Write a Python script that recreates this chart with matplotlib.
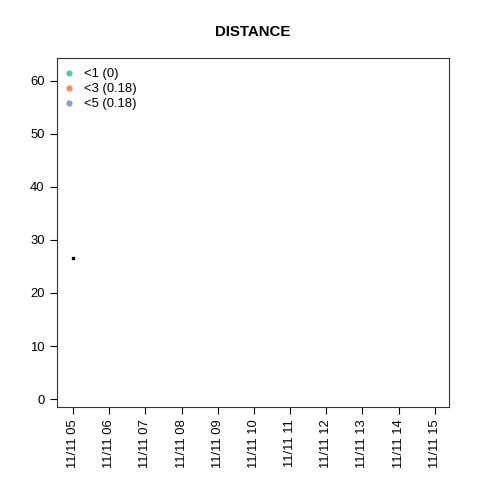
import datetime as dt
import matplotlib
matplotlib.use("Agg")
import matplotlib.pyplot as plt
import matplotlib.dates as mdates
from matplotlib.lines import Line2D

plt.rcParams["font.family"] = ["Liberation Sans", "DejaVu Sans"]

# data
times = [dt.datetime(2015, 11, 11, 5, 0)]
distance = [26.6]
legend_labels = ["<1 (0)", "<3 (0.18)", "<5 (0.18)"]
legend_colors = ["#66C2A5", "#FC8D62", "#8DA0CB"]
tick_times = [dt.datetime(2015, 11, 11, h) for h in range(5, 16)]

fig = plt.figure(figsize=(4.8, 4.8), dpi=100)
ax = fig.add_axes([57 / 480, 73 / 480, 392 / 480, 349 / 480])

ax.plot(times, distance, "s", color="black", markersize=1.8)

t0 = tick_times[0]
ax.set_xlim(t0 - dt.timedelta(hours=0.44), t0 + dt.timedelta(hours=10.39))
ax.set_ylim(-1.5, 64.3)
ax.set_xticks(tick_times)
ax.xaxis.set_major_formatter(mdates.DateFormatter("%m/%d %H"))
ax.set_yticks([0, 10, 20, 30, 40, 50, 60])
ax.tick_params(axis="x", rotation=90, labelsize=9.4, length=5, pad=4)
ax.tick_params(axis="y", labelsize=9.4, length=5, pad=4)
for sp in ax.spines.values():
    sp.set_linewidth(0.8)
    sp.set_color("#333333")

ax.set_title("DISTANCE", fontsize=10.8, fontweight="bold", pad=16)

handles = [Line2D([], [], marker="o", linestyle="", color=c, markersize=3.5)
           for c in legend_colors]
ax.legend(handles, legend_labels, loc="upper left", frameon=False,
          bbox_to_anchor=(-0.007, 0.995),
          fontsize=9.4, handletextpad=0.65, labelspacing=0.22,
          borderaxespad=0.35, borderpad=0.3, handlelength=1.0)

fig.savefig("out.png", dpi=100)
